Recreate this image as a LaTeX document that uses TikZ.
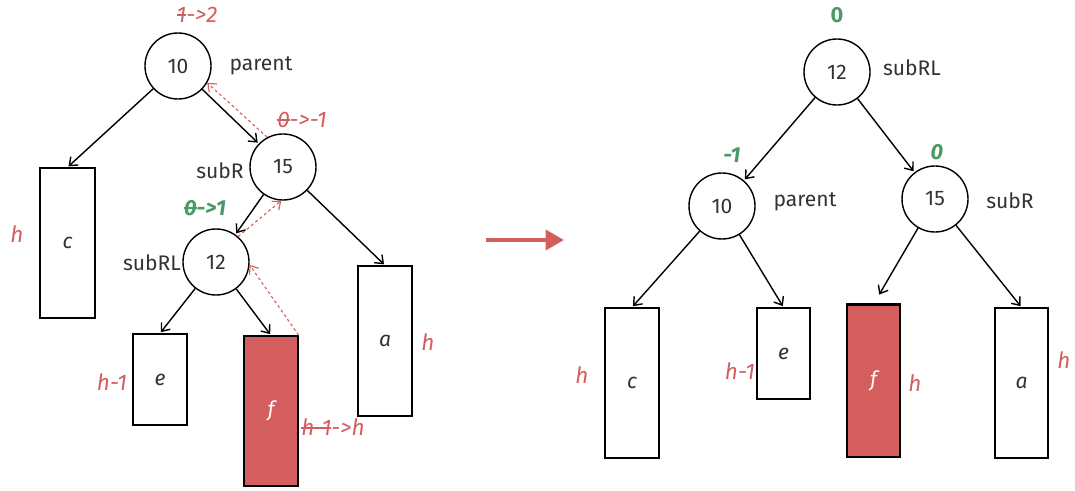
\documentclass[tikz,border=0pt]{standalone}
\usepackage{fontspec}
\setmainfont{Fira Sans}
\usetikzlibrary{arrows.meta}

\definecolor{avlred}{HTML}{D45D5D}
\definecolor{avlgreen}{HTML}{4A9A66}
\definecolor{ink}{HTML}{333333}

\newsavebox{\crossbox}
\newcommand{\crossout}[1]{\sbox{\crossbox}{#1}\rlap{\raisebox{0.3em}{\rule{\wd\crossbox}{0.07em}}}\usebox{\crossbox}}

\tikzset{
  treenode/.style={draw, circle, minimum size=1.65cm, inner sep=0pt, line width=1pt, text=ink},
  subtree/.style={draw, rectangle, inner sep=0pt, line width=1pt, font=\itshape, text=ink},
  edge/.style={->, line width=1pt, shorten >=1pt},
  trace/.style={->, avlred, dash pattern=on 2pt off 2pt, line width=0.8pt},
  hlabel/.style={avlred, font=\fontsize{16}{18}\selectfont\itshape},
  bflabel/.style={avlgreen, font=\fontsize{15.5}{18}\selectfont\bfseries\itshape},
  namelabel/.style={text=ink},
}

\begin{document}
\fontsize{15}{17}\selectfont
\begin{tikzpicture}[x=0.025cm, y=-0.025cm, >={Straight Barb[length=5pt, width=8pt]}]
\useasboundingbox (0,0) rectangle (1075,491);

% before rotation
\node[treenode] (parent) at (178,66) {10};
\node[treenode] (subR) at (283,167) {15};
\node[treenode] (subRL) at (216,262) {12};
\node[subtree, minimum width=1.375cm, minimum height=3.75cm] (c) at (67.5,243) {c};
\node[subtree, minimum width=1.35cm, minimum height=2.275cm] (e) at (160,379.5) {e};
\node[subtree, fill=avlred, text=white, minimum width=1.35cm, minimum height=3.75cm] (f) at (271,411) {f};
\node[subtree, minimum width=1.35cm, minimum height=3.75cm] (a) at (385,341) {a};

\node[namelabel] (parentname) at (261,66) {parent};
\node[namelabel] (subRname) at (220,171) {subR};
\node[namelabel] (subRLname) at (152,263) {subRL};

\node[hlabel] (bfparent) at (197,15) {\crossout{1}->2};
\node[hlabel] (bfsubR) at (302,120) {\crossout{0}->-1};
\node[bflabel] (bfsubRL) at (205,208) {\crossout{0}->1};
\node[hlabel] (hc) at (17,234) {h};
\node[hlabel] (he) at (112,382) {h-1};
\node[hlabel] (hf) at (333,427) {\crossout{h-1}->h};
\node[hlabel] (ha) at (428,342) {h};

\draw[edge] (parent) -- (c.north);
\draw[edge] (parent) -- (subR);
\draw[edge] (subR) -- (subRL);
\draw[edge] (subR) -- (a.north);
\draw[edge] (subRL) -- (e.north);
\draw[edge] (subRL) -- (f.north);

\draw[trace] (f.north east) -- (subRL.-5);
\draw[trace] (subRL.49) -- (subR.-93);
\draw[trace] (subR.118) -- (parent.-30);

% rotation
\coordinate (rotfrom) at (486,240);
\coordinate (rotto) at (564,240);
\draw[avlred, line width=3pt, -{Triangle[length=13pt, width=14pt]}] (rotfrom) -- (rotto);

% after rotation
\node[treenode] (subRLnew) at (837,72) {12};
\node[treenode] (parentnew) at (722,206) {10};
\node[treenode] (subRnew) at (935,199) {15};
\node[subtree, minimum width=1.35cm, minimum height=3.75cm] (cnew) at (632,383) {c};
\node[subtree, minimum width=1.325cm, minimum height=2.275cm] (enew) at (783.5,353.5) {e};
\node[subtree, fill=avlred, text=white, minimum width=1.325cm, minimum height=3.8cm] (fnew) at (873.5,381) {f};
\node[subtree, minimum width=1.325cm, minimum height=3.75cm] (anew) at (1021.5,383) {a};
\draw[line width=2pt] (fnew.north west) -- (fnew.north east);

\node[namelabel] (subRLnewname) at (912,68) {subRL};
\node[namelabel] (parentnewname) at (805,202) {parent};
\node[namelabel] (subRnewname) at (1010,201) {subR};

\node[avlgreen, font=\fontsize{15.5}{18}\selectfont\bfseries] (bfsubRLnew) at (837,15) {0};
\node[bflabel] (bfparentnew) at (732,155) {-1};
\node[bflabel] (bfsubRnew) at (937,152) {0};
\node[hlabel] (hcnew) at (582,375) {h};
\node[hlabel] (henew) at (740,371) {h-1};
\node[hlabel] (hfnew) at (915,383) {h};
\node[hlabel] (hanew) at (1064,360) {h};

\draw[edge] (subRLnew) -- (parentnew);
\draw[edge] (subRLnew) -- (subRnew);
\draw[edge] (parentnew) -- (cnew.north);
\draw[edge] (parentnew) -- (enew.north);
\draw[edge, shorten >=8pt] (subRnew) -- (fnew.north);
\draw[edge] (subRnew) -- (anew.north);
\end{tikzpicture}
\end{document}
